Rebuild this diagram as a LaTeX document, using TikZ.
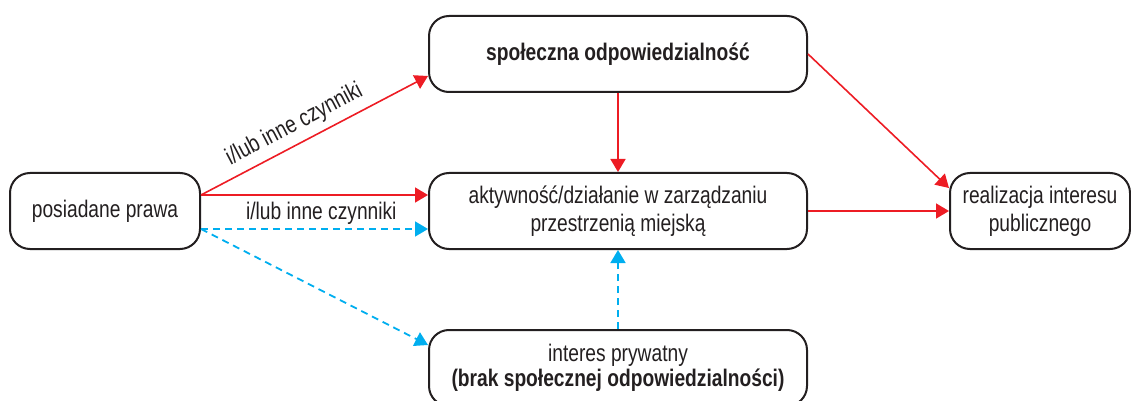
\documentclass[tikz,border=0pt]{standalone}
\usepackage{fontspec}
\setmainfont[FakeStretch=0.8]{Liberation Sans}
\usepackage{tikz}
\usetikzlibrary{arrows.meta}
\definecolor{czerwony}{HTML}{ED1C24}
\definecolor{niebieski}{HTML}{00AEEF}
\definecolor{tekst}{HTML}{231F20}

\begin{document}
\begin{tikzpicture}[x=0.5pt, y=-0.5pt, font=\fontsize{12}{14}\selectfont, text=tekst,
  box/.style={rectangle, draw=tekst, line width=1pt, rounded corners=10pt, align=center, inner sep=0pt, minimum height=38pt},
  redarrow/.style={draw=czerwony, line width=0.8pt, -{Triangle[length=6.5pt, width=7.5pt]}},
  bluearrow/.style={draw=niebieski, line width=0.9pt, dash pattern=on 3.5pt off 2.5pt, -{Triangle[length=6.5pt, width=7.5pt]}}]
\useasboundingbox (0,0) rectangle (1131,401);

\node[box, minimum width=95pt]  (prawa) at (105,211)  {posiadane prawa};
\node[box, minimum width=189pt] (odp)   at (618,54)   {\bfseries społeczna odpowiedzialność};
\node[box, minimum width=189pt] (akt)   at (618,211)  {aktywność/działanie w zarządzaniu\\przestrzenią miejską};
\node[box, minimum width=189pt] (pryw)  at (618,368)  {interes prywatny\\[-1.5pt]\bfseries (brak społecznej odpowiedzialności)};
\node[box, minimum width=90pt]  (real)  at (1040,211) {realizacja interesu\\publicznego};

\draw[redarrow] ([yshift=8pt]prawa.east) -- node[above, sloped, pos=0.45] {i/lub inne czynniki} ([yshift=-11pt]odp.west);
\draw[redarrow] ([yshift=8pt]prawa.east) -- node[below, pos=0.53] {i/lub inne czynniki} ([yshift=8pt]akt.west);
\draw[bluearrow] ([yshift=-9pt]prawa.east) -- ([yshift=-9pt]akt.west);
\draw[bluearrow] ([yshift=-9pt]prawa.east) -- ([yshift=11.5pt]pryw.west);

\draw[redarrow] (odp.south) -- (akt.north);
\draw[bluearrow] (pryw.north) -- (akt.south);

\draw[redarrow] (odp.east) -- ([yshift=11.5pt]real.west);
\draw[redarrow] (akt.east) -- (real.west);

\end{tikzpicture}
\end{document}
